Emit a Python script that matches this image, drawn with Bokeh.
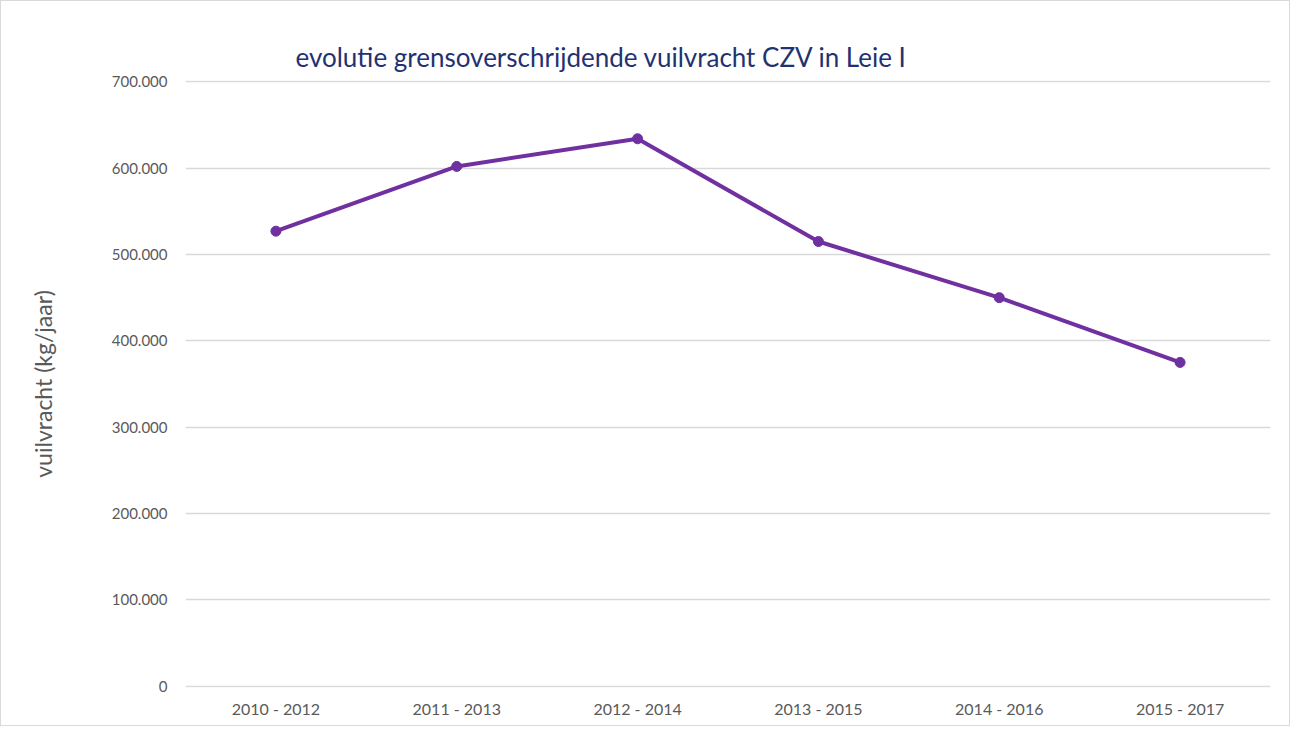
from bokeh.plotting import figure
from bokeh.models import Range1d, FixedTicker, ColumnDataSource
from bokeh.embed import file_html
from bokeh.resources import INLINE

periods = ["2010 - 2012", "2011 - 2013", "2012 - 2014", "2013 - 2015", "2014 - 2016", "2015 - 2017"]
vuilvracht = [527000, 602000, 634000, 515000, 450000, 375000]
y_ticks = [0, 100000, 200000, 300000, 400000, 500000, 600000, 700000]
y_tick_labels = ["0", "100.000", "200.000", "300.000", "400.000", "500.000", "600.000", "700.000"]
title_text = "evolutie grensoverschrijdende  vuilvracht CZV  in  Leie I"
y_label = "vuilvracht (kg/jaar)"

FONT = "Lato"
GRAY = "#595959"
PURPLE = "#7030A0"

p = figure(width=1290, height=726, x_range=periods, y_range=Range1d(-1500, 701500),
           output_backend="svg", toolbar_location=None,
           min_border_left=184, min_border_right=21, min_border_top=79, min_border_bottom=40)
p.styles = {"border": "1px solid #d9d9d9", "box-sizing": "border-box"}
p.outline_line_color = None
p.background_fill_color = "white"
p.border_fill_color = "white"

src = ColumnDataSource(dict(x=periods, y=vuilvracht))
p.line("x", "y", source=src, line_color=PURPLE, line_width=4)
p.scatter("x", "y", source=src, size=10, fill_color=PURPLE, line_color=PURPLE)

p.xgrid.grid_line_color = None
p.ygrid.grid_line_color = "#D9D9D9"
p.ygrid.grid_line_width = 1.3

p.yaxis.ticker = FixedTicker(ticks=y_ticks)
p.yaxis.major_label_overrides = {t: l for t, l in zip(y_ticks, y_tick_labels)}
for ax in (p.xaxis[0], p.yaxis[0]):
    ax.axis_line_color = None
    ax.major_tick_line_color = None
    ax.minor_tick_line_color = None
    ax.major_label_text_color = GRAY
    ax.major_label_text_font = FONT
p.yaxis.major_label_text_font_size = "15px"
p.xaxis.major_label_text_font_size = "16px"
p.yaxis.major_label_standoff = 12
p.xaxis.major_label_standoff = 5
p.yaxis.axis_label = y_label
p.yaxis.axis_label_text_font = FONT
p.yaxis.axis_label_text_font_size = "23px"
p.yaxis.axis_label_text_font_style = "normal"
p.yaxis.axis_label_text_color = GRAY
p.yaxis.axis_label_standoff = 52

p.title.text = title_text
p.title.text_font = FONT
p.title.text_font_size = "26px"
p.title.text_font_style = "normal"
p.title.text_color = "#1F3272"
p.title.align = "left"
p.title.offset = 110
p.title.standoff = 15

open("out.html", "w").write(file_html(p, INLINE))
